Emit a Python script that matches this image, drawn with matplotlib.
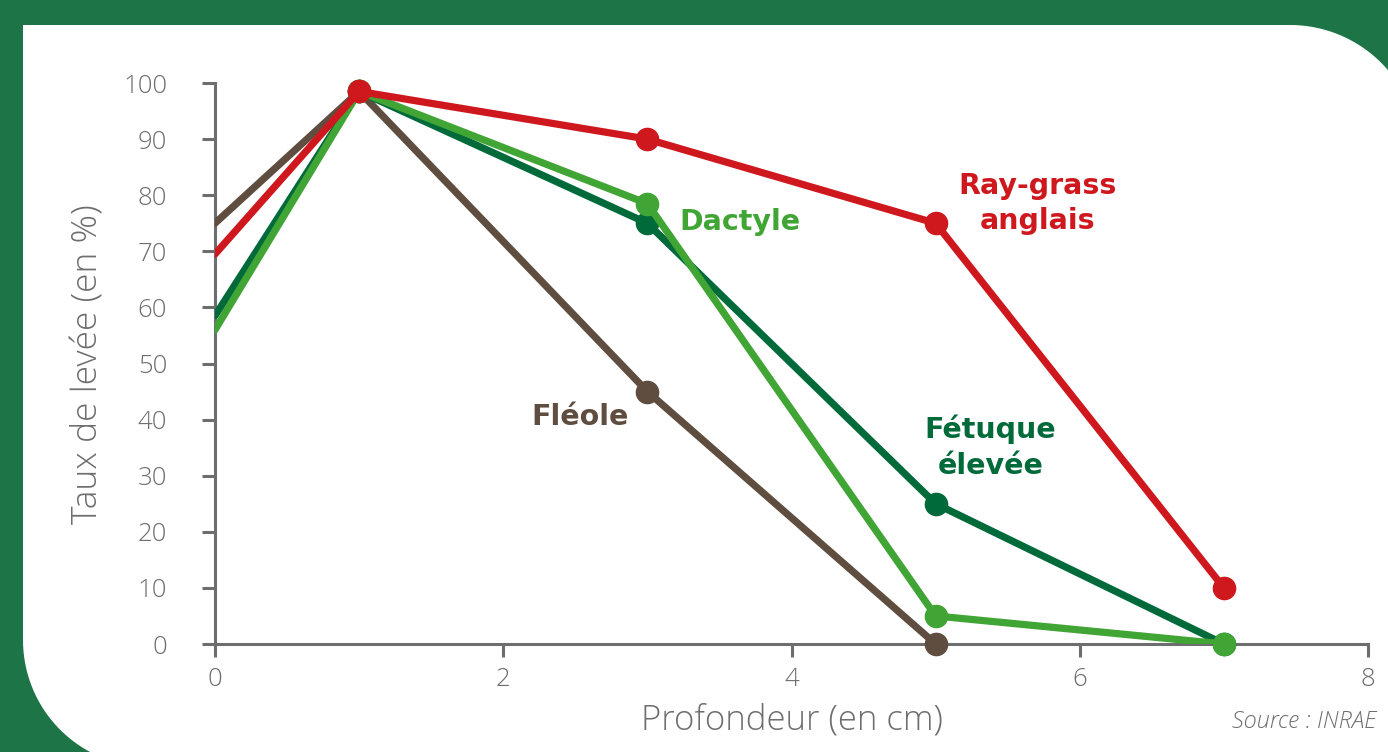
import matplotlib
matplotlib.use("Agg")
import numpy as np
import matplotlib.pyplot as plt
from matplotlib.patches import PathPatch
from matplotlib.path import Path
from matplotlib.transforms import IdentityTransform

# Data
depth = [0, 1, 3, 5, 7]
fleole = [75, 98.5, 45, 0, None]
fetuque = [58.5, 98.5, 75, 25, 0]
dactyle = [56, 98.5, 78.5, 5, 0]
raygrass = [69.5, 98.5, 90, 75, 10]
xticks = [0, 2, 4, 6, 8]
yticks = [0, 10, 20, 30, 40, 50, 60, 70, 80, 90, 100]

C_RED = "#cf181e"
C_LGREEN = "#41a535"
C_DGREEN = "#006a3a"
C_BROWN = "#5f4d40"
C_GRAY = "#6e6e6e"
BG = "#1d7447"

plt.rcParams['font.family'] = ['Open Sans', 'DejaVu Sans']

fig = plt.figure(figsize=(13.88, 7.52), dpi=100)
fig.patch.set_facecolor(BG)

# white panel: square top-left, rounded top-right and bottom-left (pixel coords)
def arc(cx, cy, r, a0, a1, n=40):
    t = np.radians(np.linspace(a0, a1, n))
    return list(zip(cx + r * np.cos(t), cy + r * np.sin(t)))

verts = [(23, 727), (1290, 727)]
verts += arc(1290, 598, 129, 90, 0)
verts += [(1419, -15), (150, -15)]
verts += arc(150, 112, 127, 270, 180)
verts += [(23, 727)]
panel = PathPatch(Path(verts), transform=IdentityTransform(),
                  facecolor="white", edgecolor="none", zorder=-5)
fig.patches.append(panel)

ax = fig.add_axes([215/1388, 1-644/752, 1153/1388, 561/752])
ax.set_zorder(2)
ax.set_facecolor("none")
ax.set_xlim(0, 8)
ax.set_ylim(0, 100)

def draw(xs, ys, color, z):
    px = [x for x, y in zip(xs, ys) if y is not None]
    py = [y for y in ys if y is not None]
    ax.plot(px, py, color=color, lw=5.2, solid_capstyle="round",
            solid_joinstyle="round", zorder=z, clip_on=True)
    ax.plot(px[1:], py[1:], 'o', color=color, ms=16, zorder=z + 0.5,
            clip_on=False)

draw(depth, fleole, C_BROWN, 2)
draw(depth, fetuque, C_DGREEN, 3)
draw(depth, dactyle, C_LGREEN, 4)
draw(depth, raygrass, C_RED, 5)

for s in ["top", "right"]:
    ax.spines[s].set_visible(False)
for s in ["left", "bottom"]:
    ax.spines[s].set_color(C_GRAY)
    ax.spines[s].set_linewidth(2.2)
    ax.spines[s].set_zorder(1)

ax.set_xticks(xticks)
ax.set_yticks(yticks)
ax.tick_params(axis="both", colors=C_GRAY, length=9.5, width=2.2,
               labelsize=18.5, labelcolor=C_GRAY, direction="out")
ax.tick_params(axis="y", pad=25)
ax.tick_params(axis="x", pad=7)
for lab in ax.get_xticklabels() + ax.get_yticklabels():
    lab.set_fontweight("light")

fig.text(88/1388, 1-364/752, "Taux de levée (en %)", rotation=90,
         ha="center", va="center", fontsize=25.5, color=C_GRAY,
         fontweight="light")
fig.text(792/1388, 1-720/752, "Profondeur (en cm)", ha="center",
         va="center", fontsize=25, color=C_GRAY, fontweight="light")
fig.text(1376/1388, 1-722/752, "Source : INRAE", ha="right",
         va="center", fontsize=17, color=C_GRAY, style="italic",
         fontweight="light")

lab_kw = dict(ha="center", va="center", fontsize=20.5, fontweight="bold",
              linespacing=1.35, family="DejaVu Sans")
ax.text(5.71, 78.5, "Ray-grass\nanglais", color=C_RED, **lab_kw)
ax.text(3.64, 75.2, "Dactyle", color=C_LGREEN, **lab_kw)
ax.text(2.53, 40.5, "Fléole", color=C_BROWN, **lab_kw)
ax.text(5.38, 35.1, "Fétuque\nélevée", color=C_DGREEN, **lab_kw)

fig.savefig("out.png", dpi=100, facecolor=fig.get_facecolor())
